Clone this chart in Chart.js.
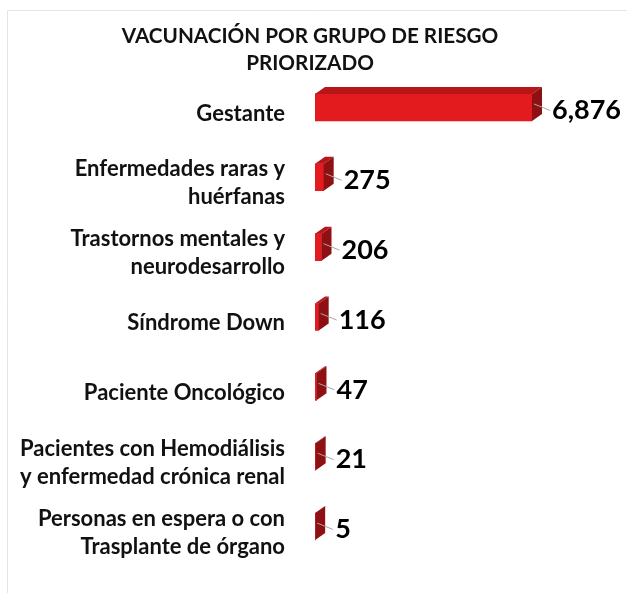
<!DOCTYPE html>
<html>
<head>
<meta charset="utf-8">
<script src="https://cdn.jsdelivr.net/npm/chart.js@4.4.1/dist/chart.umd.min.js"></script>
<style>
    html, body { margin: 0; padding: 0; background: #fff; }
</style>
</head>
<body>
<canvas id="chart" width="627" height="593"></canvas>
<script>
const titleLines = ['VACUNACIÓN POR GRUPO DE RIESGO', 'PRIORIZADO'];
const categories = [
    ['Gestante'],
    ['Enfermedades raras y', 'huérfanas'],
    ['Trastornos mentales y', 'neurodesarrollo'],
    ['Síndrome Down'],
    ['Paciente Oncológico'],
    ['Pacientes con Hemodiálisis', 'y enfermedad crónica renal'],
    ['Personas en espera o con', 'Trasplante de órgano']
];
const values = [6876, 275, 206, 116, 47, 21, 5];
const valueLabels = ['6,876', '275', '206', '116', '47', '21', '5'];

const FONT = 'Lato';
const DEPTH_X = 10;
const DEPTH_Y = -7;

// faint frame round the chart, like the exported picture
const framePlugin = {
    id: 'frame',
    beforeDraw(chart) {
        const ctx = chart.ctx;
        ctx.save();
        ctx.strokeStyle = '#e4e4e4';
        ctx.lineWidth = 1;
        ctx.beginPath();
        ctx.moveTo(7.5, chart.height);
        ctx.lineTo(7.5, 10.5);
        ctx.lineTo(chart.width, 10.5);
        ctx.stroke();
        ctx.restore();
    }
};

// top and side faces so the bars look like the 3D excel bars, plus value labels
const bar3dPlugin = {
    id: 'bar3d',
    afterDatasetsDraw(chart) {
        const ctx = chart.ctx;
        const meta = chart.getDatasetMeta(0);
        ctx.save();
        meta.data.forEach((el, i) => {
            const { x, y, base, height } = el.getProps(['x', 'y', 'base', 'height'], true);
            const top = y - height / 2;
            const bot = y + height / 2;

            ctx.fillStyle = '#b71518';
            ctx.beginPath();
            ctx.moveTo(base, top);
            ctx.lineTo(base + DEPTH_X, top + DEPTH_Y);
            ctx.lineTo(x + DEPTH_X, top + DEPTH_Y);
            ctx.lineTo(x, top);
            ctx.closePath();
            ctx.fill();

            ctx.fillStyle = '#8f1013';
            ctx.beginPath();
            ctx.moveTo(x, top);
            ctx.lineTo(x + DEPTH_X, top + DEPTH_Y);
            ctx.lineTo(x + DEPTH_X, bot + DEPTH_Y);
            ctx.lineTo(x, bot);
            ctx.closePath();
            ctx.fill();

            // leader line
            ctx.strokeStyle = '#a6a6a6';
            ctx.lineWidth = 1;
            ctx.beginPath();
            ctx.moveTo(x + 2, y + DEPTH_Y / 2);
            ctx.lineTo(x + 18, y + 3);
            ctx.stroke();

            ctx.fillStyle = '#000';
            ctx.font = `bold 27px ${FONT}`;
            ctx.textAlign = 'left';
            ctx.textBaseline = 'middle';
            ctx.fillText(valueLabels[i], x + 20, y + 3);
        });
        ctx.restore();
    }
};

new Chart(document.getElementById('chart'), {
    type: 'bar',
    data: {
        labels: categories,
        datasets: [{
            data: values,
            backgroundColor: '#e31b1e',
            borderWidth: 0,
            barThickness: 27
        }]
    },
    options: {
        indexAxis: 'y',
        responsive: false,
        animation: false,
        layout: {
            padding: { top: 0, right: 7, bottom: 31.5, left: 0 }
        },
        plugins: {
            legend: { display: false },
            tooltip: { enabled: false },
            title: {
                display: true,
                text: titleLines,
                color: '#111',
                font: { family: FONT, weight: 'bold', size: 20.7, lineHeight: 27 / 20.7 },
                padding: { top: 22.5, bottom: -4 }
            }
        },
        scales: {
            x: {
                display: false,
                min: 0,
                max: 9664
            },
            y: {
                afterFit(scale) {
                    scale.width = 315;
                    // the label overflow must not shrink the plot
                    scale.paddingTop = 0;
                    scale.paddingBottom = 0;
                },
                border: { display: false },
                grid: { display: false, drawTicks: false },
                ticks: {
                    autoSkip: false,
                    padding: 30,
                    labelOffset: 6,
                    color: '#111',
                    font: { family: FONT, weight: 'bold', size: 22, lineHeight: 28 / 22 }
                }
            }
        }
    },
    plugins: [framePlugin, bar3dPlugin]
});
</script>
</body>
</html>
